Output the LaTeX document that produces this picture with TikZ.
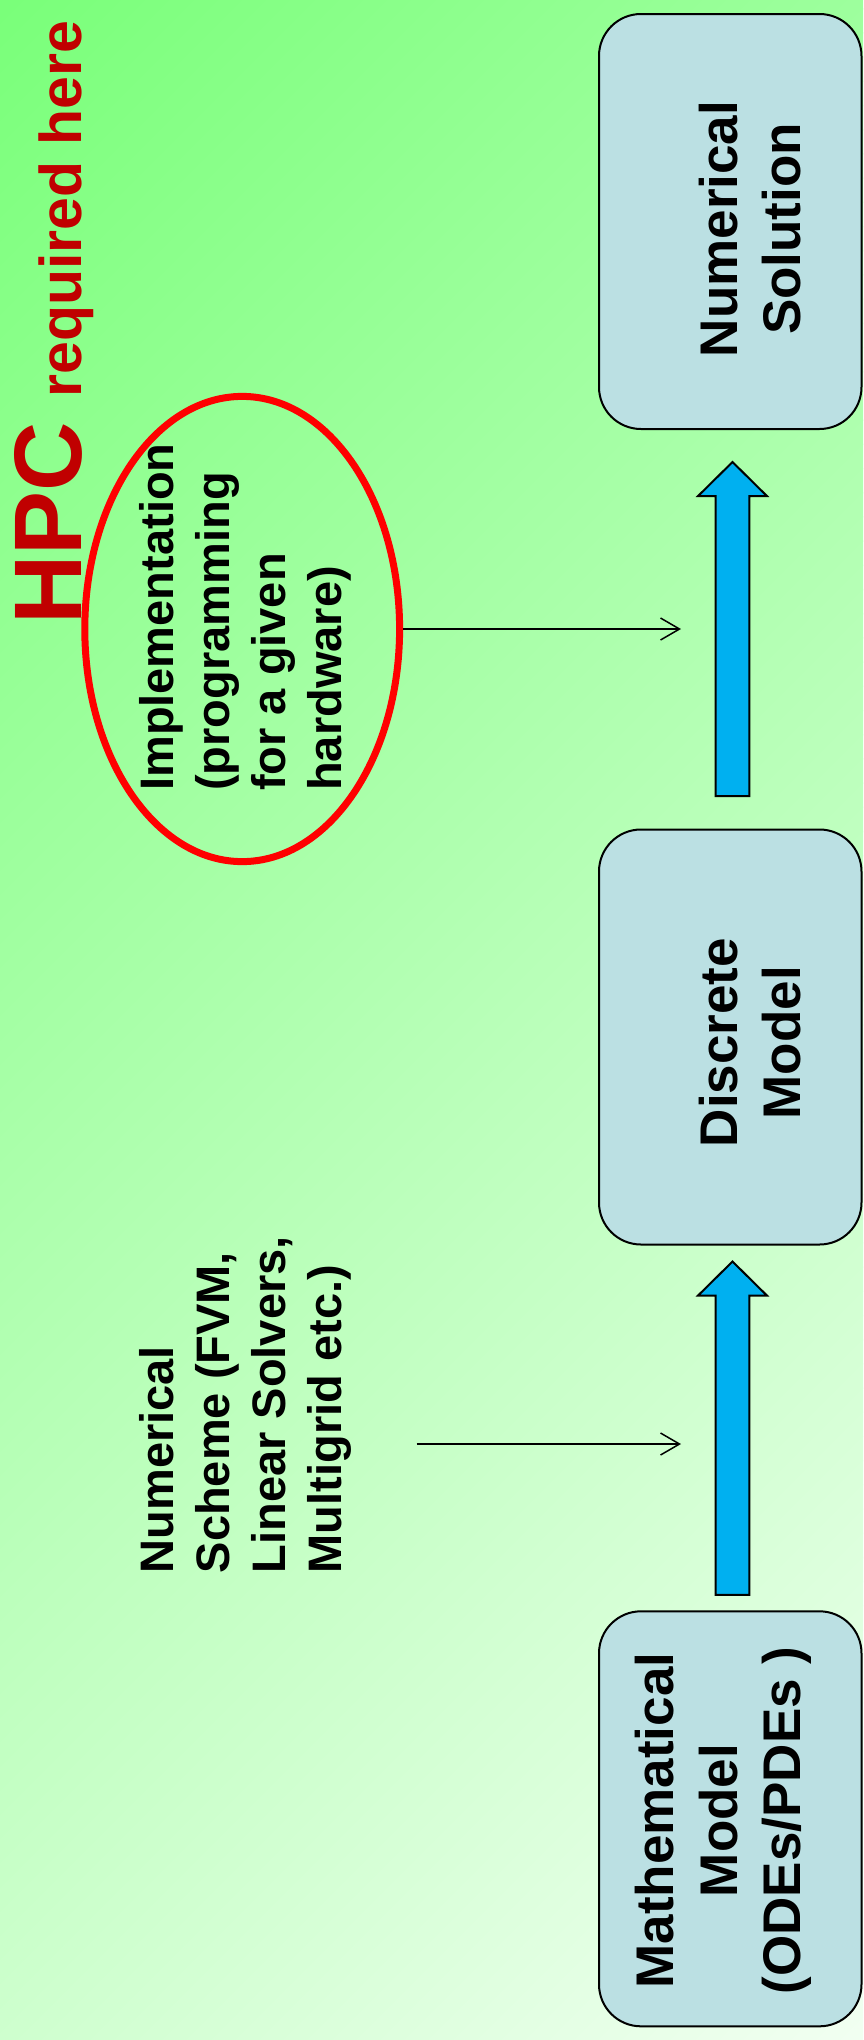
\documentclass[tikz,border=0pt]{standalone}
\usepackage{fontspec}
\setmainfont{Liberation Sans}
\usetikzlibrary{calc,arrows.meta,shapes.geometric}
\definecolor{bgA}{RGB}{122,255,122}
\definecolor{bgB}{RGB}{242,255,242}
\definecolor{boxfill}{RGB}{187,224,227}
\definecolor{arrowfill}{RGB}{0,176,240}
\definecolor{hpcred}{RGB}{192,0,0}
\begin{document}
\begin{tikzpicture}[x=1pt,y=-1pt,
  box/.style={draw=black, line width=2pt, fill=boxfill, rounded corners=42pt,
    minimum width=262.5pt, minimum height=415pt, inner sep=0pt, outer sep=0pt},
  boxtext/.style={rotate=90, align=center, inner sep=0pt,
    font=\fontsize{53}{63.5}\selectfont\bfseries, anchor=base},
  sidetext/.style={rotate=90, align=left, inner sep=0pt,
    font=\fontsize{47}{56}\selectfont\bfseries, anchor=base west},
  thinarrow/.style={draw=black, line width=1.5pt, -{Straight Barb[length=19pt,width=22pt]}},
  blockarrow/.style={draw=black, line width=2pt, fill=arrowfill, line join=miter},
  hpctext/.style={rotate=90, anchor=base west, inner sep=0pt, text=hpcred},
]
\useasboundingbox (0,0) rectangle (863,2040);

% diagonal background gradient, built from thin bands
\begin{scope}
  \clip (0,0) rectangle (863,2040);
  \foreach \i in {0,...,120} {
    \pgfmathsetmacro\c{\i*24.2}
    \pgfmathsetmacro\pct{100*\i/120}
    \fill[bgB!\pct!bgA] (\c,0) -- (\c+25.5,0) -- (\c+25.5-2040,2040) -- (\c-2040,2040) -- cycle;
  }
\end{scope}

% heading
\node[hpctext, font=\fontsize{96}{110}\selectfont\bfseries] (hpc) at (81.7,625) {HPC};
\node[hpctext, font=\fontsize{59}{68}\selectfont\bfseries] (req) at (81,397.8) {required here};

% model boxes (text anchored on the baseline of its last line)
\node[box] (sol) at (730.25,221.5) {};
\node[box] (disc) at (730.25,1037) {};
\node[box] (math) at (730.25,1818.8) {};
\node[boxtext] (soltext) at (800.8,229) {Numerical\\Solution};
\node[boxtext] (disctext) at (800.8,1042.6) {Discrete\\Model};
\node[boxtext] (mathtext) at (800.7,1820.5) {Mathematical\\Model\\(ODEs/PDEs )};

% block arrows between the boxes
\coordinate (a1tail) at ($(disc.north)+(2.25,-33.5)$);
\coordinate (a1tip) at ($(sol.south)+(2.25,33)$);
\coordinate (a2tail) at ($(math.north)+(2.25,-16.5)$);
\coordinate (a2tip) at ($(disc.south)+(2.25,17)$);
\draw[blockarrow] let \p1=(a1tail), \p2=(a1tip) in
  (\x1-16.8pt,\y1) -- (\x1-16.8pt,\y2-34pt) -- (\x1-34.4pt,\y2-34pt) -- (\x2,\y2)
  -- (\x1+34.4pt,\y2-34pt) -- (\x1+16.8pt,\y2-34pt) -- (\x1+16.8pt,\y1) -- cycle;
\draw[blockarrow] let \p1=(a2tail), \p2=(a2tip) in
  (\x1-16.8pt,\y1) -- (\x1-16.8pt,\y2-34pt) -- (\x1-34.4pt,\y2-34pt) -- (\x2,\y2)
  -- (\x1+34.4pt,\y2-34pt) -- (\x1+16.8pt,\y2-34pt) -- (\x1+16.8pt,\y1) -- cycle;

% implementation step
\node[draw=red, line width=7pt, ellipse, minimum width=314.8pt, minimum height=465.2pt,
  inner sep=0pt, outer sep=0pt] (impl) at (242.2,629) {};
\node[sidetext] (impltext) at (341.7,791) {Implementation\\(programming\\for a given\\hardware)};
\coordinate (t1) at (681,629);
\draw[thinarrow, shorten <=3.5pt] (impl.east) -- (t1);

% numerical scheme step
\node[sidetext] (scheme) at (341.7,1573.4) {Numerical\\Scheme (FVM,\\Linear Solvers,\\Multigrid etc.)};
\coordinate (s2) at (416.6,1444);
\coordinate (t2) at (681,1444);
\draw[thinarrow] (s2) -- (t2);
\end{tikzpicture}
\end{document}
